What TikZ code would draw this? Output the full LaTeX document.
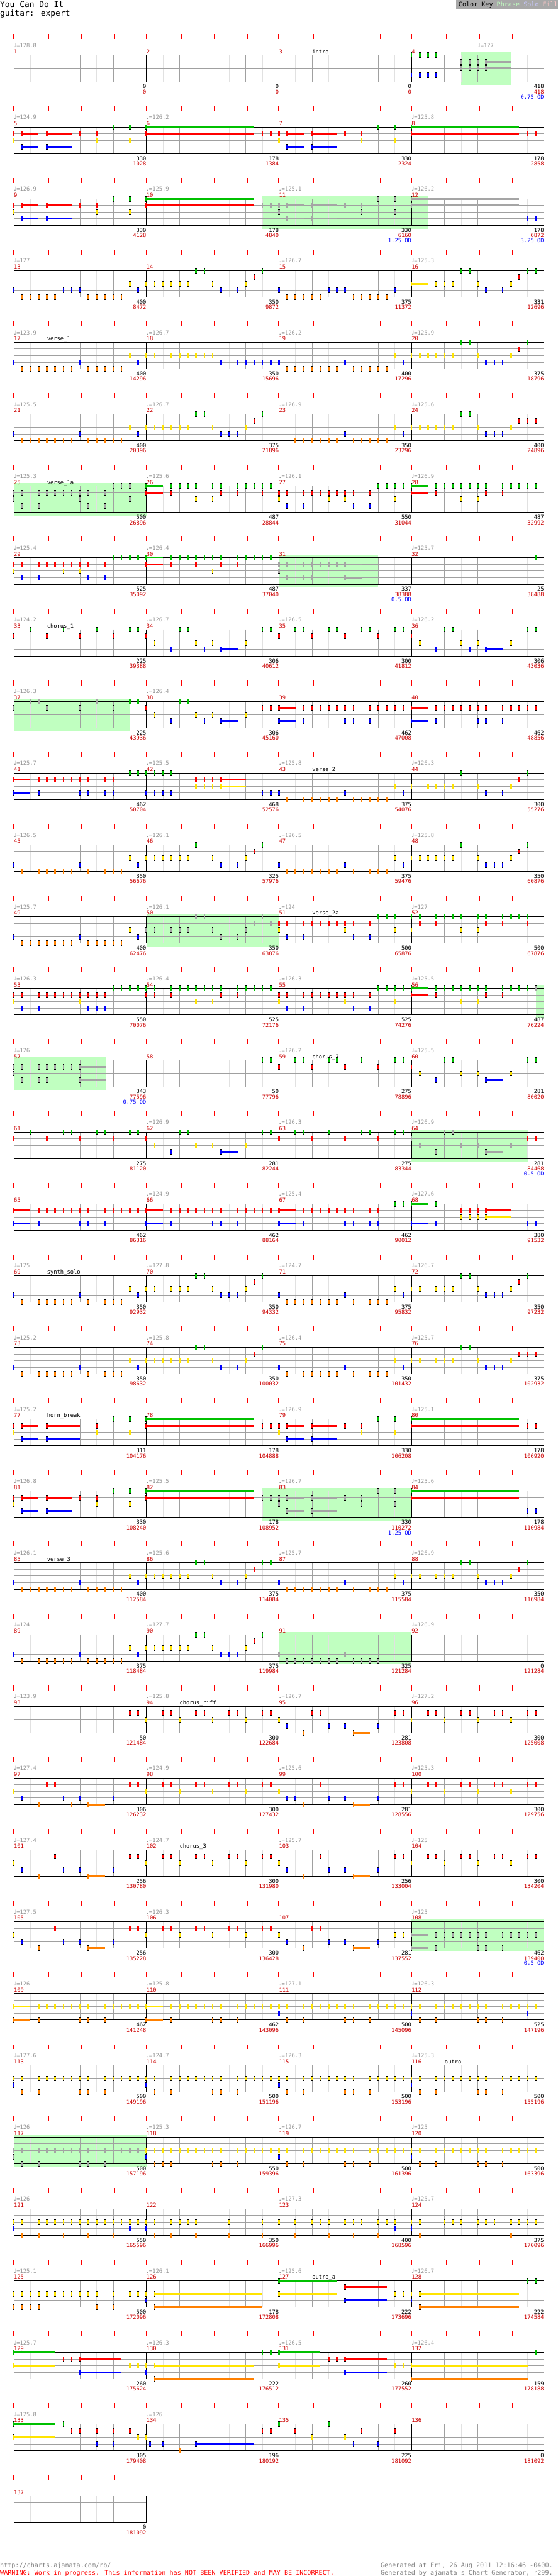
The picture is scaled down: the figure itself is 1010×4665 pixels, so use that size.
\documentclass[tikz,border=0pt]{standalone}
\usepackage{fontspec}
\newfontfamily\mono{DejaVu Sans Mono}
\newfontfamily\dvs{DejaVu Sans}
\definecolor{cG}{RGB}{0,192,0}
\definecolor{cR}{RGB}{255,0,0}
\definecolor{cY}{RGB}{255,228,0}
\definecolor{cB}{RGB}{0,0,255}
\definecolor{cO}{RGB}{255,128,0}
\definecolor{cX}{RGB}{165,165,165}
\definecolor{cP}{RGB}{192,255,192}
\definecolor{cL}{RGB}{225,225,225}
\definecolor{cD}{RGB}{160,160,160}
\definecolor{cM}{RGB}{204,0,0}
\definecolor{cT}{RGB}{150,150,150}
\definecolor{kS}{RGB}{200,200,255}
\definecolor{kF}{RGB}{255,200,200}
\definecolor{kBox}{RGB}{168,168,168}
\definecolor{cFoot}{RGB}{128,128,128}
\tikzset{
  lgrid/.style={draw=cL,line width=1pt},
  bgrid/.style={draw=cD,line width=1pt},
  barl/.style={draw=black,line width=1pt},
  small/.style={font=\mono\fontsize{10}{12}\selectfont,inner sep=0pt},
  mnumst/.style={small,text=cM,anchor=base west},
  tmpst/.style={small,text=cT,anchor=base west},
  secst/.style={small,text=black,anchor=base west},
  bkst/.style={small,text=black,anchor=base east},
  brst/.style={small,text=cM,anchor=base east},
  odst/.style={small,text=cB,anchor=base east},
  big/.style={font=\mono\fontsize{14.7}{16}\selectfont,inner sep=0pt,anchor=base west},
  mid/.style={font=\mono\fontsize{11.5}{13}\selectfont,inner sep=0pt,anchor=base west}
}
% notes
\newcommand\nts[4]{\foreach \p in {#4}{%
  \fill[#2] ({25+15*\p-1.5},{100+130*#1+12*#3-5}) rectangle ++(3,10);
  \fill[black] ({25+15*\p-1.5},{100+130*#1+12*#3-5}) rectangle ++(3,1);
  \fill[black] ({25+15*\p-1.5},{100+130*#1+12*#3+4}) rectangle ++(3,1);}}
\newcommand\gN[2]{\nts{#1}{cG}{0}{#2}}
\newcommand\rN[2]{\nts{#1}{cR}{1}{#2}}
\newcommand\yN[2]{\nts{#1}{cY}{2}{#2}}
\newcommand\bN[2]{\nts{#1}{cB}{3}{#2}}
\newcommand\oN[2]{\nts{#1}{cO}{4}{#2}}
\newcommand\xN[3]{\nts{#1}{cX}{#2}{#3}}
\newcommand\susn[5]{\fill[#2] ({25+15*#4},{100+130*#1+12*#3-1.75}) rectangle ({25+15*#5},{100+130*#1+12*#3+1.75}); \nts{#1}{#2}{#3}{#4}}
\newcommand\gS[3]{\susn{#1}{cG}{0}{#2}{#3}}
\newcommand\rS[3]{\susn{#1}{cR}{1}{#2}{#3}}
\newcommand\yS[3]{\susn{#1}{cY}{2}{#2}{#3}}
\newcommand\bS[3]{\susn{#1}{cB}{3}{#2}{#3}}
\newcommand\oS[3]{\susn{#1}{cO}{4}{#2}{#3}}
\newcommand\xS[4]{\susn{#1}{cX}{#2}{#3}{#4}}
\newcommand\phr[3]{\fill[cP] ({25+15*#2},{100+130*#1-5}) rectangle ({25+15*#3},{100+130*#1+54});}
\newcommand\staff[2]{%
  \pgfmathsetmacro\sy{100+130*#1}%
  \pgfmathtruncatemacro\nh{8*#2-1}%
  \pgfmathtruncatemacro\nbt{4*#2-1}%
  \pgfmathsetmacro\sx{25+240*#2}%
  \foreach \k in {1,...,\nh}{\draw[lgrid] ({25+30*\k},{\sy}) -- ++(0,48);}
  \foreach \k in {1,...,\nbt}{\draw[bgrid] ({25+60*\k},{\sy}) -- ++(0,48);}
  \foreach \l in {1,2,3}{\draw[bgrid] (25,{\sy+12*\l}) -- ({\sx},{\sy+12*\l});}
  \foreach \k in {0,...,#2}{\draw[barl] ({25+240*\k},{\sy}) -- ++(0,48);}
  \draw[barl] (25,{\sy}) -- ({\sx},{\sy});
  \draw[barl] (25,{\sy+48}) -- ({\sx},{\sy+48});
  \foreach \k in {1,...,#2}{\pgfmathtruncatemacro\mm{4*#1+\k}\node[mnumst] (m\mm) at ({25+240*(\k-1)},{\sy-3}) {\mm};}
}
\newcommand\tcks[1]{\foreach \tx in {25,87.6,148,207,265,328.5,388,448,504,567.5,628,688.5,745,808,867.6,927.5}{\fill[cR] ({\tx-1},{100+130*#1-38}) rectangle ++(2,9);}}
\newcommand\tcksfour[1]{\foreach \tx in {25,87.6,148,207}{\fill[cR] ({\tx-1},{100+130*#1-38}) rectangle ++(2,9);}}
\newcommand\tp[3]{\node[tmpst] (tp#1x#2) at ({25+15*#2},{100+130*#1-14}) {{\dvs ♩}=#3};}
\newcommand\secl[3]{\node[secst] (sec#1) at ({25+15*#2},{100+130*#1-3}) {#3};}
\newcommand\bnum[4]{\node[bkst] (bk#1x#2) at ({25+240*#2},{100+130*#1+60.5}) {#3};
  \node[brst] (br#1x#2) at ({25+240*#2},{100+130*#1+70}) {#4};}
\newcommand\bnrow[9]{\bnum{#1}{1}{#2}{#3}\bnum{#1}{2}{#4}{#5}\bnum{#1}{3}{#6}{#7}\bnum{#1}{4}{#8}{#9}}
\newcommand\odt[3]{\node[odst] (od#1x#2) at ({25+240*#2},{100+130*#1+79}) {#3};}
\begin{document}
\begin{tikzpicture}[x=1pt,y=-1pt]
\fill[white] (0,0) rectangle (1010,4665);
\useasboundingbox (0,0) rectangle (1010,4665);
% header
\node[big] (title) at (0,13) {You Can Do It};
\node[big] (sub) at (0,28.5) {guitar: expert};
\fill[kBox] (826,0) rectangle (1010,16);
\node[mid] (key) at (830,12) {\color{black}Color Key \color{cP}Phrase \color{kS}Solo \color{kF}Fill};
% phrase boxes
\phr{0}{54}{60}
\phr{2}{30}{50}
\phr{6}{0}{16}
\phr{7}{32}{44}
\phr{9}{0}{14}
\phr{12}{16}{32}
\phr{13}{63}{64}
\phr{14}{0}{11.07}
\phr{15}{48}{62}
\phr{20}{30}{48}
\phr{22}{32}{48}
\phr{26}{48}{64}
\phr{29}{0}{16}
% staffs
\foreach \r in {0,...,33}{\staff{\r}{4}\tcks{\r}}
\staff{34}{1}\tcksfour{34}
% ---- row 0
\tp{0}{0}{128.8} \tp{0}{56}{127}
\secl{0}{36}{intro}
\gN{0}{48,49,50,51} \bN{0}{48,49,50,51}
\xN{0}{1}{54,55,56} \xS{0}{1}{57}{60}
\xN{0}{2}{54,55,56} \xS{0}{2}{57}{60}
\bnrow{0}{0}{0}{0}{0}{0}{0}{418}{418}
\odt{0}{4}{0.75 OD}
% ---- row 1
\tp{1}{0}{124.9} \tp{1}{16}{126.2} \tp{1}{48}{125.8}
\gN{1}{12,14,44,46} \gS{1}{16}{29} \gS{1}{48}{61}
\rN{1}{0,8,10,30,31,32,40,42,62,63}
\rS{1}{1}{3} \rS{1}{4}{7} \rS{1}{16}{29} \rS{1}{33}{35} \rS{1}{36}{39} \rS{1}{48}{61}
\yN{1}{0,10,14,32,42,46}
\bS{1}{1}{3} \bS{1}{4}{7} \bS{1}{33}{35} \bS{1}{36}{39}
\bnrow{1}{330}{1028}{178}{1384}{330}{2324}{178}{2858}
% ---- row 2
\tp{2}{0}{126.9} \tp{2}{16}{125.9} \tp{2}{32}{125.1} \tp{2}{48}{126.2}
\rN{2}{0,8,10} \rS{2}{1}{3} \rS{2}{4}{7} \rS{2}{16}{29}
\gN{2}{12,14} \gS{2}{16}{29}
\yN{2}{0,10,14}
\bS{2}{1}{3} \bS{2}{4}{7}
\xN{2}{1}{30,31,32,40,42} \xS{2}{1}{33}{35} \xS{2}{1}{36}{39}
\xN{2}{2}{32,42,46}
\xS{2}{3}{33}{35} \xS{2}{3}{36}{39}
\xN{2}{0}{44,46} \xS{2}{0}{48}{61} \xS{2}{1}{48}{61}
\bN{2}{62,63}
\bnrow{2}{330}{4128}{178}{4840}{330}{6160}{178}{6872}
\odt{2}{3}{1.25 OD} \odt{2}{4}{3.25 OD}
% ---- row 3
\tp{3}{0}{127} \tp{3}{32}{126.7} \tp{3}{48}{125.3}
\bN{3}{0,6,7,8,15,25,27,32,38,39,40,46,57,59}
\oN{3}{1,2,3,4,5,9,10,11,12,13,33,34,35,36,37,41,42,43,44,45}
\yN{3}{14,16,17,18,19,20,21,24,28,51,52,53,56,60} \yS{3}{48}{50}
\gN{3}{22,23,30,54,55,62,63}
\rN{3}{29,61}
\bnrow{3}{400}{8472}{350}{9872}{375}{11372}{331}{12696}
% ---- row 4
\tp{4}{0}{123.9} \tp{4}{16}{126.7} \tp{4}{32}{126.2} \tp{4}{48}{125.9}
\secl{4}{4}{verse\_1}
\bN{4}{0,8,15,25,27,28,29,30,31,32,40,47,57,58,59}
\oN{4}{1,2,3,4,5,6,7,9,10,11,12,13,33,34,35,36,37,38,39,41,42,43,44,45}
\yN{4}{14,16,17,19,20,21,22,23,24,46,48,49,50,51,52,53,56,60}
\gN{4}{54,55,62}
\rN{4}{61}
\bnrow{4}{400}{14296}{350}{15696}{400}{17296}{375}{18796}
% ---- row 5
\tp{5}{0}{125.5} \tp{5}{16}{126.7} \tp{5}{32}{126.9} \tp{5}{48}{125.6}
\bN{5}{0,8,15,25,26,27,40,47,57,58,59}
\oN{5}{1,2,3,4,5,6,7,9,10,11,12,13,34,35,36,37,38,39,41,42,43,44,45}
\yN{5}{14,16,17,18,19,20,21,24,28,46,48,49,50,51,52,53,56,60}
\gN{5}{22,23,30,54,55}
\rN{5}{29,61,62,63}
\bnrow{5}{400}{20396}{375}{21896}{350}{23296}{400}{24896}
% ---- row 6
\tp{6}{0}{125.3} \tp{6}{16}{125.6} \tp{6}{32}{126.1} \tp{6}{48}{126.9}
\secl{6}{4}{verse\_1a}
\xN{6}{1}{0,1,3,4,5,6,7,8,9,11} \xN{6}{2}{0,8,14} \xN{6}{3}{1,3,9,11} \xN{6}{0}{12,13,14}
\gS{6}{16}{18} \rS{6}{16}{18}
\gN{6}{19,20,21,22,24,25,27,28,29,30,31,44,45,46,47,51,52,53,54,55,56,57,59,60,61,62,63}
\gS{6}{48}{50} \rS{6}{48}{50}
\rN{6}{19,25,27,30,32,33,35,36,37,38,39,40,41,43,51,57,59}
\yN{6}{22,24,32,38,40,46,54,56}
\bN{6}{33,35,41,43}
\bnrow{6}{500}{26896}{487}{28844}{550}{31044}{487}{32992}
% ---- row 7
\tp{7}{0}{125.4} \tp{7}{16}{126.4} \tp{7}{48}{125.7}
\rN{7}{0,1,3,4,5,6,7,8,9,11,19,22,25,27}
\yN{7}{0,6,8,24}
\bN{7}{1,3,9,11}
\gN{7}{12,13,14,15,19,20,21,22,23,24,25,27,28,29,30,31,63}
\gS{7}{16}{18} \rS{7}{16}{18}
\xN{7}{1}{32,33,35,36,37,38,39} \xS{7}{1}{40}{42}
\xN{7}{2}{32}
\xN{7}{3}{33,35,36} \xS{7}{3}{40}{42}
\bnrow{7}{525}{35092}{487}{37040}{337}{38388}{25}{38488}
\odt{7}{3}{0.5 OD}
% ---- row 8
\tp{8}{0}{124.2} \tp{8}{16}{126.7} \tp{8}{32}{126.5} \tp{8}{48}{126.2}
\secl{8}{4}{chorus\_1}
\gN{8}{2,6,10,14,15,20,21,30,31,34,35,38,39,42,43,46,47,52,53,62,63}
\rN{8}{0,4,8,12,16,32,36,40,44,48}
\yN{8}{17,22,24,28,49,54,56,60}
\bN{8}{19,23,51,55} \bS{8}{25}{27} \bS{8}{57}{59}
\bnrow{8}{225}{39388}{306}{40612}{300}{41812}{306}{43036}
% ---- row 9
\tp{9}{0}{126.3} \tp{9}{16}{126.4}
\xN{9}{0}{2,3,10} \xN{9}{1}{0,4,8,12}
\gN{9}{14,15,20,21}
\rN{9}{16,30,31,35,36,37,38,39,40,41,43,44,45,46,47,51,52,53,54,55,56,57,59,60,61,62,63}
\rS{9}{32}{34} \rS{9}{48}{50}
\yN{9}{17,22,24,28}
\bN{9}{19,23,35,40,41,43,51,56,57,59} \bS{9}{25}{27} \bS{9}{32}{34} \bS{9}{48}{50}
\bnrow{9}{225}{43936}{306}{45160}{462}{47008}{462}{48856}
% ---- row 10
\tp{10}{0}{125.7} \tp{10}{16}{125.5} \tp{10}{32}{125.8} \tp{10}{48}{126.3}
\secl{10}{36}{verse\_2}
\rS{10}{0}{2} \rN{10}{3,4,5,6,7,8,9,11,12,22,23,24,61} \rS{10}{25}{28}
\bS{10}{0}{2} \bN{10}{3,8,9,11,12,16,17,18,19,30,31,32,40,47,57,59}
\gN{10}{14,15,16,17,18,19,54,62}
\yN{10}{22,23,24,46,48,50,51,52,53,56,60} \yS{10}{25}{28}
\oN{10}{33,35,36,37,38,39,41,42,43,44,45}
\bnrow{10}{462}{50704}{468}{52576}{375}{54076}{300}{55276}
% ---- row 11
\tp{11}{0}{126.5} \tp{11}{16}{126.1} \tp{11}{32}{126.5} \tp{11}{48}{125.8}
\bN{11}{0,8,15,25,27,32,40,47,57,58,59}
\oN{11}{1,3,4,5,6,7,9,11,12,13,33,34,35,36,37,38,39,41,43,44,45}
\yN{11}{14,16,17,18,19,20,21,24,28,46,48,49,50,51,52,53,56,60}
\gN{11}{22,30,54,62}
\rN{11}{29,61}
\bnrow{11}{350}{56676}{325}{57976}{375}{59476}{350}{60876}
% ---- row 12
\tp{12}{0}{125.7} \tp{12}{16}{126.1} \tp{12}{32}{124} \tp{12}{48}{127}
\secl{12}{36}{verse\_2a}
\bN{12}{0,8,15,33,35,41,43}
\oN{12}{1,2,3,4,5,6,7,9,10,11,12,13}
\yN{12}{14,32,40,46,48,54,56}
\xN{12}{2}{16,17,19,20,21,24,28} \xN{12}{0}{22,23,30} \xN{12}{1}{29,31} \xN{12}{3}{25,27}
\rN{12}{32,33,35,36,37,38,39,40,41,43,49,51,57,59,62}
\gN{12}{44,45,46,48,49,51,52,53,54,56,57,59,60,61,62}
\bnrow{12}{400}{62476}{350}{63876}{500}{65876}{500}{67876}
% ---- row 13
\tp{13}{0}{126.3} \tp{13}{16}{126.4} \tp{13}{32}{126.3} \tp{13}{48}{125.5}
\rN{13}{0,1,3,4,5,6,7,8,9,10,11,16,17,19,25,27,32,33,35,36,37,38,39,40,41,43,51,57,59}
\yN{13}{0,8,22,24,32,40,46,54,56}
\bN{13}{1,3,9,10,11,33,35,41,43}
\gN{13}{12,13,14,15,16,17,19,20,21,22,23,24,25,27,28,29,30,31,44,45,46,47,51,52,53,54,55,56,57,59,60,61,62}
\gS{13}{48}{50} \rS{13}{48}{50}
\xN{13}{0}{63}
\bnrow{13}{550}{70076}{525}{72176}{525}{74276}{487}{76224}
% ---- row 14
\tp{14}{0}{126} \tp{14}{32}{126.2} \tp{14}{48}{125.5}
\secl{14}{36}{chorus\_2}
\xN{14}{1}{0,1,3,4,5,6,7} \xS{14}{1}{8}{11.07} \xN{14}{2}{0} \xN{14}{3}{1,3,4} \xS{14}{3}{8}{11.07}
\gN{14}{30,31,34,35,38,39,42,46,47,52,53,62,63}
\rN{14}{32,36,40,44,48}
\yN{14}{49,54,56,60}
\bN{14}{51} \bS{14}{57}{59}
\bnrow{14}{343}{77596}{50}{77796}{275}{78896}{281}{80020}
\odt{14}{1}{0.75 OD}
% ---- row 15
\tp{15}{16}{126.9} \tp{15}{32}{126.3} \tp{15}{48}{126.9}
\gN{15}{2,6,7,10,11,14,15,20,21,30,31,34,35,38,42,43,46,47}
\rN{15}{0,4,8,12,16,32,36,40,44,62,63}
\yN{15}{17,22,24,28}
\bN{15}{19} \bS{15}{25}{27}
\xN{15}{1}{48} \xN{15}{0}{52,53} \xN{15}{2}{49,54,56,60} \xN{15}{3}{51} \xS{15}{3}{57}{59}
\bnrow{15}{275}{81120}{281}{82244}{275}{83344}{281}{84468}
\odt{15}{4}{0.5 OD}
% ---- row 16
\tp{16}{16}{124.9} \tp{16}{32}{125.4} \tp{16}{48}{127.6}
\rS{16}{0}{2} \rS{16}{16}{18} \rS{16}{32}{34}
\rN{16}{3,4,5,6,7,8,9,11,12,13,14,15,19,20,21,22,23,24,25,27,28,29,30,31,35,36,37,38,39,40,41,43,44,54,55,56}
\rS{16}{57}{60}
\bS{16}{0}{2} \bS{16}{16}{18} \bS{16}{32}{34} \bS{16}{48}{50}
\bN{16}{3,8,9,11,19,24,25,27,35,40,41,43,44,51,62,63}
\gN{16}{46,47,51} \gS{16}{48}{50}
\yN{16}{54,55,56} \yS{16}{57}{60}
\bnrow{16}{462}{86316}{462}{88164}{462}{90012}{380}{91532}
% ---- row 17
\tp{17}{0}{125} \tp{17}{16}{127.8} \tp{17}{32}{124.7} \tp{17}{48}{126.7}
\secl{17}{4}{synth\_solo}
\bN{17}{0,8,15,25,26,27,32,40,47,57,58,59}
\oN{17}{1,3,4,5,6,7,9,11,12,13,33,34,35,36,37,38,39,41,43,44,45}
\yN{17}{14,16,17,19,20,21,24,28,46,48,49,51,52,53,56,60}
\gN{17}{22,23,30,54,55,62}
\rN{17}{29,61}
\bnrow{17}{350}{92932}{350}{94332}{375}{95832}{350}{97232}
% ---- row 18
\tp{18}{0}{125.2} \tp{18}{16}{125.8} \tp{18}{32}{126.4} \tp{18}{48}{125.7}
\bN{18}{0,8,15,25,27,32,40,47,57,58,59}
\oN{18}{1,3,4,5,6,7,9,11,12,13,33,35,36,37,38,39,41,43,44,45}
\yN{18}{14,16,17,18,19,20,21,24,28,46,48,49,51,52,53,56,60}
\gN{18}{22,23,30,54,55}
\rN{18}{29,61,62,63}
\bnrow{18}{350}{98632}{350}{100032}{350}{101432}{375}{102932}
% ---- row 19
\tp{19}{0}{125.2} \tp{19}{32}{126.9} \tp{19}{48}{125.1}
\secl{19}{4}{horn\_break}
\rN{19}{0,10,30,31,32,40,42,62,63}
\rS{19}{1}{3} \rS{19}{4}{8} \rS{19}{16}{29} \rS{19}{33}{35} \rS{19}{36}{39} \rS{19}{48}{61}
\yN{19}{0,10,14,32,42,46}
\gN{19}{12,14,44,46} \gS{19}{16}{29} \gS{19}{48}{61}
\bS{19}{1}{3} \bS{19}{4}{8} \bS{19}{33}{35} \bS{19}{36}{39}
\bnrow{19}{311}{104176}{178}{104888}{330}{106208}{178}{106920}
% ---- row 20
\tp{20}{0}{126.8} \tp{20}{16}{125.5} \tp{20}{32}{126.7} \tp{20}{48}{125.6}
\rN{20}{0,8,10} \rS{20}{1}{3} \rS{20}{4}{7} \rS{20}{16}{29}
\gN{20}{12,14} \gS{20}{16}{29}
\yN{20}{0,10,14}
\bS{20}{1}{3} \bS{20}{4}{7}
\xN{20}{1}{30,31,32,40,42} \xS{20}{1}{33}{35} \xS{20}{1}{36}{39}
\xN{20}{2}{32,42,46}
\xS{20}{3}{33}{35} \xS{20}{3}{36}{39}
\xN{20}{0}{44,46}
\gS{20}{48}{61} \rS{20}{48}{61}
\bN{20}{62,63}
\bnrow{20}{330}{108240}{178}{108952}{330}{110272}{178}{110984}
\odt{20}{3}{1.25 OD}
% ---- row 21
\tp{21}{0}{126.1} \tp{21}{16}{125.6} \tp{21}{32}{125.7} \tp{21}{48}{126.9}
\secl{21}{4}{verse\_3}
\bN{21}{0,8,15,25,27,32,40,47,57,58,59}
\oN{21}{1,2,3,4,5,6,7,9,10,11,12,13,33,34,35,36,37,38,39,41,43,44,45}
\yN{21}{14,16,17,18,19,20,21,24,28,46,48,49,51,52,53,56,60}
\gN{21}{22,23,30,31,54,55,62}
\rN{21}{29,61}
\bnrow{21}{400}{112584}{375}{114084}{375}{115584}{350}{116984}
% ---- row 22
\tp{22}{0}{124} \tp{22}{16}{127.7} \tp{22}{48}{126.9}
\bN{22}{0,8,15,25,26,27}
\oN{22}{1,3,4,5,6,7,9,10,11,12,13}
\yN{22}{14,16,17,18,19,20,21,24,28}
\gN{22}{22,23,30}
\rN{22}{29}
\xN{22}{3}{32,40} \xN{22}{4}{33,34,35,36,37,38,39,41,42,43,44}
\bnrow{22}{375}{118484}{375}{119984}{325}{121284}{0}{121284}
% ---- row 23
\tp{23}{0}{123.9} \tp{23}{16}{125.8} \tp{23}{32}{126.7} \tp{23}{48}{127.2}
\secl{23}{20}{chorus\_riff}
\rN{23}{14,15,18,19,22,23,26,27,30,31,36,37,46,47,50,51,54,55,58,59,62,63}
\yN{23}{16,20,24,28,32,48,52,56,60}
\bN{23}{33,38,40,44}
\oN{23}{35} \oS{23}{41}{43}
\bnrow{23}{50}{121484}{300}{122684}{281}{123808}{300}{125008}
% ---- row 24
\tp{24}{0}{127.4} \tp{24}{16}{124.9} \tp{24}{32}{125.6} \tp{24}{48}{125.3}
\yN{24}{0,16,20,24,28,32,48,52,56,60}
\rN{24}{4,5,14,15,18,19,22,23,26,27,30,31,37,46,47,50,51,54,55,58,59,62,63}
\bN{24}{1,6,8,12,33,34,38,40,44}
\oN{24}{3,7,35} \oS{24}{9}{11} \oS{24}{41}{43}
\bnrow{24}{306}{126232}{300}{127432}{281}{128556}{300}{129756}
% ---- row 25
\tp{25}{0}{127.4} \tp{25}{16}{124.7} \tp{25}{32}{125.7} \tp{25}{48}{125}
\secl{25}{20}{chorus\_3}
\yN{25}{0,16,20,24,28,32,48,52,56,60}
\rN{25}{5,14,15,18,19,22,23,26,27,30,31,37,46,47,50,51,54,55,58,59,62,63}
\bN{25}{1,6,8,12,33,38,40,44}
\oN{25}{3,35} \oS{25}{9}{11} \oS{25}{41}{43}
\bnrow{25}{256}{130780}{300}{131980}{256}{133004}{300}{134204}
% ---- row 26
\tp{26}{0}{127.5} \tp{26}{16}{126.3} \tp{26}{48}{125}
\yN{26}{0,16,20,24,28,32,46,47}
\rN{26}{5,14,15,18,19,22,23,26,27,30,31,36,37}
\bN{26}{1,6,8,12,33,38,40,44}
\oN{26}{3,35} \oS{26}{9}{11} \oS{26}{41}{43}
\xS{26}{2}{48}{50} \xN{26}{2}{51,52,53,54,55,56,57,59,60,61,62,63}
\xS{26}{4}{48}{50} \xN{26}{4}{51,56,57,59}
\bnrow{26}{256}{135228}{300}{136428}{281}{137552}{462}{139400}
\odt{26}{4}{0.5 OD}
% ---- row 27
\tp{27}{0}{126} \tp{27}{16}{125.8} \tp{27}{32}{127.1} \tp{27}{48}{126.3}
\yS{27}{0}{2} \yS{27}{16}{18}
\yN{27}{3,4,5,6,7,8,9,11,12,13,14,15,19,20,21,22,23,24,25,27,28,29,30,31,32,33,35,36,37,38,39,40,41,43,44,45,46,47,48,49,51,52,53,54,55,56,57,59,60,61,62,63}
\oS{27}{0}{2} \oS{27}{16}{18}
\oN{27}{3,8,9,11,19,24,25,27,33,35,40,41,43,49,51,56,57,59}
\bN{27}{32,48,62}
\bnrow{27}{462}{141248}{462}{143096}{500}{145096}{525}{147196}
% ---- row 28
\tp{28}{0}{127.6} \tp{28}{16}{124.7} \tp{28}{32}{126.3} \tp{28}{48}{125.3}
\secl{28}{52}{outro}
\yN{28}{0,1,3,4,5,6,7,8,9,11,12,13,14,15,16,17,19,20,21,22,23,24,25,27,28,29,30,31,32,33,35,36,37,38,39,40,41,43,44,45,46,47,48,49,51,52,53,54,55,56,57,59,60,61,62,63}
\bN{28}{0,16,32,48}
\oN{28}{1,3,8,9,11,17,19,24,25,27,33,35,40,41,43,49,51,56,57,59}
\bnrow{28}{500}{149196}{500}{151196}{500}{153196}{500}{155196}
% ---- row 29
\tp{29}{0}{126} \tp{29}{16}{125.3} \tp{29}{32}{126.7} \tp{29}{48}{125}
\xN{29}{2}{0,1,3,4,5,6,7,8,9,11,12,13,14,15} \xN{29}{3}{0} \xN{29}{4}{1,3,8,9,11}
\yN{29}{16,17,18,19,20,21,22,23,24,25,27,28,29,30,31,32,33,35,36,37,38,39,40,41,43,44,45,46,47,48,49,51,52,53,54,55,56,57,59,60,61,62,63}
\bN{29}{16,32,48}
\oN{29}{17,18,19,24,25,27,33,35,40,41,43,49,51,56,57,59}
\bnrow{29}{500}{157196}{550}{159396}{500}{161396}{500}{163396}
% ---- row 30
\tp{30}{0}{126} \tp{30}{32}{127.3} \tp{30}{48}{125.7}
\yN{30}{0,1,3,4,5,6,7,8,9,10,11,12,13,14,15,16,17,19,20,21,22,26,30,32,34,36,37,38,40,41,42,44,45,46,48,49,52,53,54,56,57,58,60,61,62,63}
\bN{30}{0,14,16,46,48}
\oN{30}{1,3,6,9,12,17,19,22,26,30,34,38,41,44,49,60}
\bnrow{30}{550}{165596}{350}{166996}{400}{168596}{375}{170096}
% ---- row 31
\tp{31}{0}{125.1} \tp{31}{16}{126.1} \tp{31}{32}{125.6} \tp{31}{48}{126.7}
\secl{31}{36}{outro\_a}
\yN{31}{0,1,2,3,4,5,6,7,8,9,10,12,14,15,16,46,47,48}
\oN{31}{0,1,2,3,10,12}
\bN{31}{16,48}
\yS{31}{17}{30} \oS{31}{17}{30}
\gS{31}{32}{39} \yS{31}{32}{39}
\rS{31}{40}{45} \bS{31}{40}{45}
\yS{31}{49}{61} \oS{31}{49}{61}
\gN{31}{62,63}
\bnrow{31}{500}{172096}{178}{172808}{222}{173696}{222}{174584}
% ---- row 32
\tp{32}{0}{125.7} \tp{32}{16}{126.3} \tp{32}{32}{126.5} \tp{32}{48}{126.4}
\gS{32}{0}{5} \yS{32}{0}{5}
\rN{32}{6,7,38,39} \rS{32}{8}{13} \bS{32}{8}{13}
\yN{32}{14,15,16,46,47} \bN{32}{16}
\yS{32}{17}{29} \oS{32}{17}{29}
\gN{32}{30,31,63}
\gS{32}{32}{37} \yS{32}{32}{37}
\rS{32}{40}{45} \bS{32}{40}{45}
\yS{32}{48}{62} \oS{32}{48}{62}
\bnrow{32}{260}{175624}{222}{176512}{260}{177552}{159}{178188}
% ---- row 33
\tp{33}{0}{125.8} \tp{33}{16}{126}
\gS{33}{0}{5} \yS{33}{0}{5}
\gN{33}{6,32,38}
\rN{33}{7,8,10,12,14,30,31,34,42,46}
\bN{33}{10,12,16.45,18,41,44} \bS{33}{22}{29}
\yN{33}{15,16,36,40}
\oN{33}{20}
\bnrow{33}{305}{179408}{196}{180192}{225}{181092}{0}{181092}
% ---- row 34
\bnum{34}{1}{0}{181092}
% footer
\node[mid,text=cFoot] (url) at (0,4649) {http://charts.ajanata.com/rb/};
\node[mid,text=cR] (warn) at (0,4663) {WARNING: Work in progress. This information has NOT BEEN VERIFIED and MAY BE INCORRECT.};
\node[mid,text=cFoot] (gen1) at (689,4649) {Generated at Fri, 26 Aug 2011 12:16:46 -0400.};
\node[mid,text=cFoot] (gen2) at (689,4663) {Generated by ajanata's Chart Generator, r299.};
\end{tikzpicture}
\end{document}
